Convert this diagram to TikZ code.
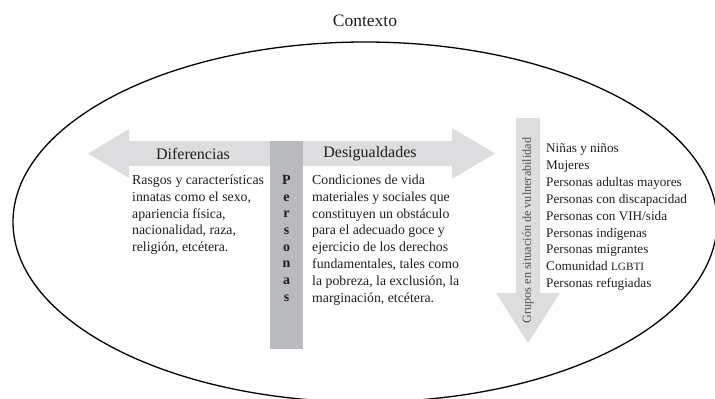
\documentclass[tikz,border=0pt]{standalone}
\usepackage{fontspec}
\setmainfont{Liberation Serif}
\definecolor{arrgray}{RGB}{221,221,223}
\definecolor{bargray}{RGB}{185,186,190}
\definecolor{txtgray}{RGB}{80,80,80}
\definecolor{ink}{RGB}{30,30,30}
\tikzset{
  body/.style={font=\fontsize{13.8}{16.8}\selectfont, align=left, inner sep=0pt, anchor=north west, text=ink},
  head/.style={font=\fontsize{16}{19}\selectfont, inner sep=0pt, text=ink},
}
\begin{document}
\begin{tikzpicture}[x=1pt,y=-1pt]
\useasboundingbox (0,0) rectangle (715,399);
% context ellipse
\draw[line width=1.3pt] (365,222) ellipse [x radius=352, y radius=180];
\node[head, font=\fontsize{17.5}{20}\selectfont] (ctx) at (365,21) {Contexto};
% horizontal double arrow
\fill[arrgray] (88,153.5) -- (129,129) -- (129,141) -- (452,141) -- (452,128)
  -- (495,153.5) -- (452,179) -- (452,166) -- (129,166) -- (129,178) -- cycle;
% vertical down arrow
\fill[arrgray] (516,118) -- (540,118) -- (540,293) -- (560,293) -- (528,343)
  -- (496,293) -- (516,293) -- cycle;
% personas bar
\fill[bargray] (270,141) rectangle (303,349);
\node[font=\fontsize{14}{16.7}\selectfont\bfseries, align=center, inner sep=0pt, anchor=north, text=ink]
  (pers) at (286.5,175) {P\\e\\r\\s\\o\\n\\a\\s};
% headings
\node[head] (dif) at (193,153.5) {Diferencias};
\node[head] (des) at (370,153.5) {Desigualdades};
% texts
\node[body] (t1) at (132,174.8) {Rasgos y características\\innatas como el sexo,\\apariencia física,\\nacionalidad, raza,\\religión, etcétera.};
\node[body] (t2) at (312,174.8) {Condiciones de vida\\materiales y sociales que\\constituyen un obstáculo\\para el adecuado goce y\\ejercicio de los derechos\\fundamentales, tales como\\la pobreza, la exclusión, la\\marginación, etcétera.};
\node[body, font=\fontsize{13.2}{16.9}\selectfont] (t3) at (546,143.5) {Niñas y niños\\Mujeres\\Personas adultas mayores\\Personas con discapacidad\\Personas con VIH/sida\\Personas indígenas\\Personas migrantes\\Comunidad {\fontsize{11.2}{16.9}\selectfont LGBTI}\\Personas refugiadas};
\node[font=\fontsize{12.2}{14}\selectfont, text=txtgray, rotate=90, inner sep=0pt] (grp) at (528,230.5) {Grupos en situación de vulnerabilidad};
\end{tikzpicture}
\end{document}
